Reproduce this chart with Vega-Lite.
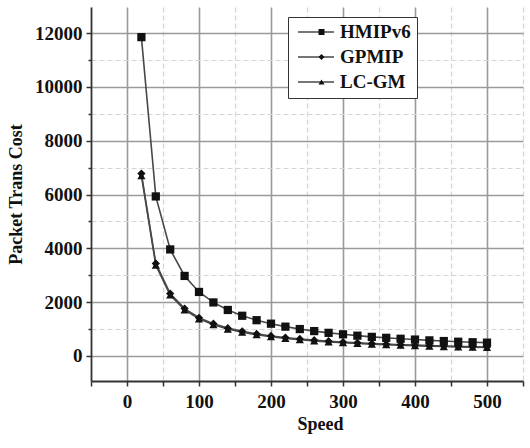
{
  "$schema": "https://vega.github.io/schema/vega-lite/v6.json",
  "autosize": "none",
  "width": 432,
  "height": 374,
  "padding": {"left": 91, "top": 7, "right": 7, "bottom": 67},
  "background": "white",
  "config": {
    "view": {"stroke": null},
    "font": "Liberation Serif",
    "axis": {
      "domainColor": "#333",
      "domainWidth": 1.8,
      "tickColor": "#333",
      "tickWidth": 1.5,
      "labelFont": "Liberation Serif",
      "labelFontWeight": "bold",
      "labelFontSize": 19,
      "labelColor": "#111",
      "titleFont": "Liberation Serif",
      "titleFontWeight": "bold",
      "titleFontSize": 18,
      "titleColor": "#111"
    },
    "legend": {
      "orient": "none",
      "legendX": 197,
      "legendY": 10,
      "padding": 6,
      "clipHeight": 18,
      "rowPadding": 6,
      "labelFont": "Liberation Serif",
      "labelFontWeight": "bold",
      "labelFontSize": 19,
      "labelColor": "#111"
    }
  },
  "datasets": {
    "cost": [
      {"speed": 20, "series": "GPMIP", "cost": 6780},
      {"speed": 40, "series": "GPMIP", "cost": 3440},
      {"speed": 60, "series": "GPMIP", "cost": 2320},
      {"speed": 80, "series": "GPMIP", "cost": 1760},
      {"speed": 100, "series": "GPMIP", "cost": 1420},
      {"speed": 120, "series": "GPMIP", "cost": 1200},
      {"speed": 140, "series": "GPMIP", "cost": 1035},
      {"speed": 160, "series": "GPMIP", "cost": 915},
      {"speed": 180, "series": "GPMIP", "cost": 820},
      {"speed": 200, "series": "GPMIP", "cost": 745},
      {"speed": 220, "series": "GPMIP", "cost": 685},
      {"speed": 240, "series": "GPMIP", "cost": 632},
      {"speed": 260, "series": "GPMIP", "cost": 588},
      {"speed": 280, "series": "GPMIP", "cost": 550},
      {"speed": 300, "series": "GPMIP", "cost": 518},
      {"speed": 320, "series": "GPMIP", "cost": 488},
      {"speed": 340, "series": "GPMIP", "cost": 462},
      {"speed": 360, "series": "GPMIP", "cost": 440},
      {"speed": 380, "series": "GPMIP", "cost": 420},
      {"speed": 400, "series": "GPMIP", "cost": 403},
      {"speed": 420, "series": "GPMIP", "cost": 385},
      {"speed": 440, "series": "GPMIP", "cost": 370},
      {"speed": 460, "series": "GPMIP", "cost": 358},
      {"speed": 480, "series": "GPMIP", "cost": 345},
      {"speed": 500, "series": "GPMIP", "cost": 333},
      {"speed": 20, "series": "LC-GM", "cost": 6700},
      {"speed": 40, "series": "LC-GM", "cost": 3375},
      {"speed": 60, "series": "LC-GM", "cost": 2265},
      {"speed": 80, "series": "LC-GM", "cost": 1710},
      {"speed": 100, "series": "LC-GM", "cost": 1380},
      {"speed": 120, "series": "LC-GM", "cost": 1160},
      {"speed": 140, "series": "LC-GM", "cost": 1000},
      {"speed": 160, "series": "LC-GM", "cost": 880},
      {"speed": 180, "series": "LC-GM", "cost": 790},
      {"speed": 200, "series": "LC-GM", "cost": 715},
      {"speed": 220, "series": "LC-GM", "cost": 655},
      {"speed": 240, "series": "LC-GM", "cost": 605},
      {"speed": 260, "series": "LC-GM", "cost": 560},
      {"speed": 280, "series": "LC-GM", "cost": 525},
      {"speed": 300, "series": "LC-GM", "cost": 495},
      {"speed": 320, "series": "LC-GM", "cost": 465},
      {"speed": 340, "series": "LC-GM", "cost": 440},
      {"speed": 360, "series": "LC-GM", "cost": 420},
      {"speed": 380, "series": "LC-GM", "cost": 400},
      {"speed": 400, "series": "LC-GM", "cost": 385},
      {"speed": 420, "series": "LC-GM", "cost": 365},
      {"speed": 440, "series": "LC-GM", "cost": 350},
      {"speed": 460, "series": "LC-GM", "cost": 340},
      {"speed": 480, "series": "LC-GM", "cost": 325},
      {"speed": 500, "series": "LC-GM", "cost": 315},
      {"speed": 20, "series": "HMIPv6", "cost": 11850},
      {"speed": 40, "series": "HMIPv6", "cost": 5930},
      {"speed": 60, "series": "HMIPv6", "cost": 3960},
      {"speed": 80, "series": "HMIPv6", "cost": 2975},
      {"speed": 100, "series": "HMIPv6", "cost": 2380},
      {"speed": 120, "series": "HMIPv6", "cost": 1990},
      {"speed": 140, "series": "HMIPv6", "cost": 1710},
      {"speed": 160, "series": "HMIPv6", "cost": 1495},
      {"speed": 180, "series": "HMIPv6", "cost": 1330},
      {"speed": 200, "series": "HMIPv6", "cost": 1200},
      {"speed": 220, "series": "HMIPv6", "cost": 1090},
      {"speed": 240, "series": "HMIPv6", "cost": 1000},
      {"speed": 260, "series": "HMIPv6", "cost": 925},
      {"speed": 280, "series": "HMIPv6", "cost": 860},
      {"speed": 300, "series": "HMIPv6", "cost": 805},
      {"speed": 320, "series": "HMIPv6", "cost": 755},
      {"speed": 340, "series": "HMIPv6", "cost": 710},
      {"speed": 360, "series": "HMIPv6", "cost": 675},
      {"speed": 380, "series": "HMIPv6", "cost": 640},
      {"speed": 400, "series": "HMIPv6", "cost": 610},
      {"speed": 420, "series": "HMIPv6", "cost": 580},
      {"speed": 440, "series": "HMIPv6", "cost": 555},
      {"speed": 460, "series": "HMIPv6", "cost": 530},
      {"speed": 480, "series": "HMIPv6", "cost": 510},
      {"speed": 500, "series": "HMIPv6", "cost": 495}
    ]
  },
  "data": {"name": "cost"},
  "encoding": {
    "x": {
      "field": "speed",
      "type": "quantitative",
      "scale": {"domain": [-50, 550], "nice": false, "zero": false},
      "axis": {
        "title": "Speed",
        "titlePadding": 4,
        "titleX": 229,
        "values": [-50, 0, 50, 100, 150, 200, 250, 300, 350, 400, 450, 500, 550],
        "labelExpr": "datum.value % 100 === 0 && datum.value >= 0 && datum.value <= 500 ? datum.label : ''",
        "format": "d",
        "labelPadding": 6,
        "tickSize": 5,
        "grid": true,
        "gridColor": {"condition": {"test": "datum.value % 100 === 0", "value": "#9a9a9a"}, "value": "#d4d4d4"},
        "gridWidth": {"condition": {"test": "datum.value % 100 === 0", "value": 1.6}, "value": 1.2},
        "gridDash": {"condition": {"test": "datum.value % 100 === 0", "value": []}, "value": [5, 3]}
      }
    },
    "y": {
      "field": "cost",
      "type": "quantitative",
      "scale": {"domain": [-930, 12970], "nice": false, "zero": false},
      "axis": {
        "title": "Packet Trans Cost",
        "titlePadding": 9,
        "values": [0, 1000, 2000, 3000, 4000, 5000, 6000, 7000, 8000, 9000, 10000, 11000, 12000],
        "labelExpr": "datum.value % 2000 === 0 ? datum.label : ''",
        "format": "d",
        "labelPadding": 4,
        "tickSize": {"condition": {"test": "datum.value % 2000 === 0", "value": 5}, "value": 3},
        "grid": true,
        "gridColor": {"condition": {"test": "datum.value % 2000 === 0", "value": "#9a9a9a"}, "value": "#d4d4d4"},
        "gridWidth": {"condition": {"test": "datum.value % 2000 === 0", "value": 1.6}, "value": 1.2},
        "gridDash": {"condition": {"test": "datum.value % 2000 === 0", "value": []}, "value": [5, 3]}
      }
    }
  },
  "layer": [
    {
      "mark": {"type": "line", "strokeWidth": 1.6},
      "encoding": {
        "detail": {"field": "series"},
        "color": {
          "field": "series",
          "type": "nominal",
          "sort": ["HMIPv6", "GPMIP", "LC-GM"],
          "scale": {"range": ["#484848", "#484848", "#484848"]},
          "legend": {
            "title": null,
            "zindex": 0,
            "strokeColor": "#333",
            "fillColor": "white",
            "symbolType": "stroke",
            "symbolSize": 1296,
            "symbolOffset": 3,
            "symbolStrokeWidth": 1.6,
            "labelOffset": 5
          }
        }
      }
    },
    {
      "mark": {"type": "point", "filled": true, "color": "#111", "opacity": 1, "size": 68},
      "encoding": {
        "shape": {
          "field": "series",
          "type": "nominal",
          "scale": {"domain": ["HMIPv6", "GPMIP", "LC-GM"], "range": ["square", "diamond", "triangle-up"]},
          "legend": {
            "title": null,
            "zindex": 1,
            "strokeColor": "transparent",
            "fillColor": "transparent",
            "symbolSize": 36,
            "symbolOffset": 18,
            "labelExpr": "''",
            "labelOffset": 35
          }
        }
      }
    }
  ]
}
